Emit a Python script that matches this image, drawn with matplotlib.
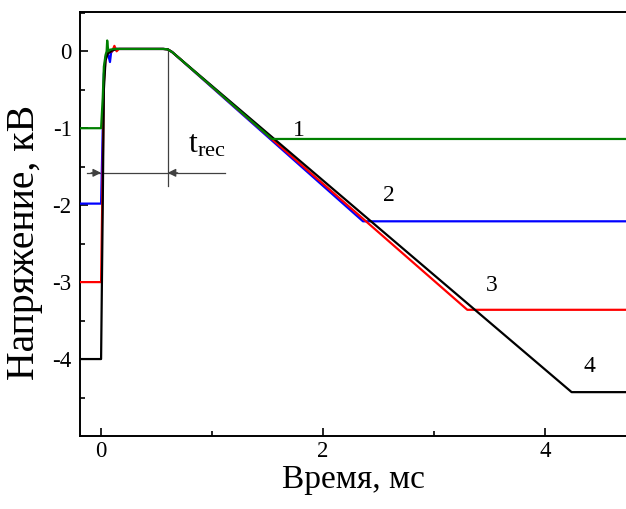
import matplotlib
matplotlib.use("Agg")
import matplotlib.pyplot as plt
from matplotlib.ticker import MultipleLocator, FixedLocator

plt.rcParams['font.family'] = ['Liberation Serif', 'DejaVu Serif']
plt.rcParams['axes.unicode_minus'] = False
plt.rcParams['mathtext.fontset'] = 'custom'
plt.rcParams['mathtext.rm'] = 'Liberation Serif'
plt.rcParams['mathtext.it'] = 'Liberation Serif'

# ---- data (time in ms, voltage in kV) ----
t_green = [-0.19, 0.0, 0.015, 0.025, 0.04, 0.05, 0.055, 0.065, 0.08, 0.12, 0.56, 0.6, 0.64, 1.54, 4.73]
v_green = [-1.0, -1.0, -0.6, -0.2, -0.05, 0.0, 0.14, 0.0, 0.02, 0.03, 0.03, 0.025, -0.01, -1.14, -1.14]

t_blue = [-0.19, 0.0, 0.015, 0.025, 0.04, 0.06, 0.08, 0.09, 0.11, 0.14, 0.56, 0.6, 0.64, 2.36, 4.73]
v_blue = [-1.98, -1.98, -1.0, -0.3, -0.08, -0.02, -0.14, -0.02, 0.02, 0.03, 0.03, 0.025, -0.01, -2.21, -2.21]

t_red = [-0.19, 0.0, 0.015, 0.025, 0.04, 0.06, 0.1, 0.12, 0.14, 0.16, 0.56, 0.6, 0.64, 3.30, 4.73]
v_red = [-3.0, -3.0, -1.5, -0.4, -0.1, -0.02, 0.0, 0.07, 0.0, 0.03, 0.03, 0.025, -0.01, -3.36, -3.36]

t_black = [-0.19, 0.0, 0.015, 0.025, 0.04, 0.06, 0.1, 0.14, 0.56, 0.6, 0.64, 4.24, 4.73]
v_black = [-4.0, -4.0, -2.0, -0.5, -0.12, -0.03, 0.01, 0.03, 0.03, 0.025, -0.01, -4.43, -4.43]

curve_labels = ['1', '2', '3', '4']
label_x = [1.78, 2.59, 3.52, 4.40]
label_y = [-1.03, -1.87, -3.04, -4.10]

x_major = [0, 2, 4]
y_major = [0, -1, -2, -3, -4]
y_minor = [0.5, -0.5, -1.5, -2.5, -3.5, -4.5]

# t_rec dimension marker
trec_start, trec_end = 0.0, 0.6
trec_y = -1.58
trec_line_x = [-0.126, 1.12]
trec_vline_y = [0.03, -1.75]

fig = plt.figure(figsize=(6.26, 5.09), dpi=100)
ax = fig.add_axes([80/626, 73/509, 1 - 80/626, (436-12)/509])

ax.plot(t_blue, v_blue, color='#0000ff', lw=1.6, zorder=3)
ax.plot(t_red, v_red, color='#ff0000', lw=1.6, zorder=3)
ax.plot(t_black, v_black, color='black', lw=1.6, zorder=4)
ax.plot(t_green, v_green, color='#008000', lw=1.6, zorder=5)

for s, x, y in zip(curve_labels, label_x, label_y):
    ax.text(x, y, s, fontsize=17, ha='center', va='center')

gray = '#404040'
ax.plot([trec_end, trec_end], trec_vline_y, color=gray, lw=0.9, zorder=2)
ax.plot(trec_line_x, [trec_y, trec_y], color=gray, lw=0.9, zorder=2)
ax.annotate('', xy=(trec_start, trec_y), xytext=(trec_start - 0.09, trec_y),
            arrowprops=dict(arrowstyle='-|>', color=gray, lw=0.9, mutation_scale=12,
                            shrinkA=0, shrinkB=0))
ax.annotate('', xy=(trec_end, trec_y), xytext=(trec_end + 0.09, trec_y),
            arrowprops=dict(arrowstyle='-|>', color=gray, lw=0.9, mutation_scale=12,
                            shrinkA=0, shrinkB=0))
ax.text(0.78, -1.31, r'$\mathregular{t_{rec}}$', fontsize=23, ha='left', va='baseline')

ax.set_xlim(-0.19, 4.73)
ax.set_ylim(-5.0, 0.51)
ax.xaxis.set_major_locator(FixedLocator(x_major))
ax.xaxis.set_minor_locator(MultipleLocator(1))
ax.yaxis.set_major_locator(FixedLocator(y_major))
ax.yaxis.set_minor_locator(FixedLocator(y_minor))
ax.tick_params(which='both', direction='in', top=False, right=False, labelsize=16.5, width=1.2)
ax.tick_params(which='major', length=6)
ax.tick_params(which='minor', length=3.5)
ax.tick_params(axis='y', pad=6)
for sp in ['left', 'bottom', 'top']:
    ax.spines[sp].set_linewidth(1.4)
ax.spines['right'].set_visible(False)

ax.set_xlabel('Время, мс', fontsize=24, labelpad=2)
fig.text(25/626, 1 - 243/509, 'Напряжение, кВ', fontsize=28.5, rotation=90,
         ha='center', va='center')

fig.savefig('out.png', dpi=100)
